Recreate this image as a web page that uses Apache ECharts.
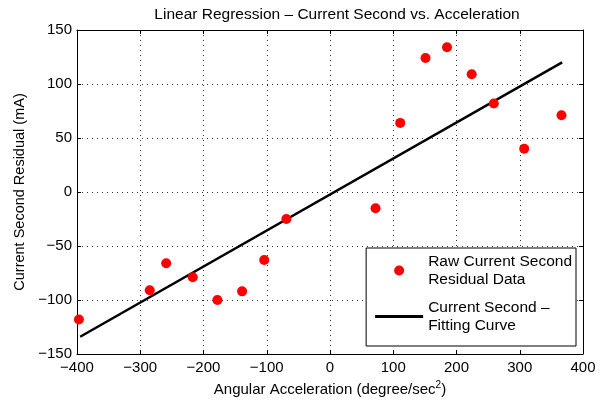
<!DOCTYPE html>
<html><head><meta charset="utf-8">
<script src="https://cdn.jsdelivr.net/npm/echarts@6/dist/echarts.min.js"></script>
<style>html,body{margin:0;padding:0;background:#fff}#c{width:613px;height:407px}</style>
</head><body><div id="c"></div>
<script>
const rawX = [-397, -285, -259, -217, -178, -139, -104, -69, 72, 111, 151, 185, 224, 259, 307, 366];
const rawY = [-118, -91, -66, -79, -100, -92, -63, -25, -15, 64, 124, 134, 109, 82, 40, 71];
const fitX = [-395, 367];
const fitY = [-134, 120];
const xTicks = [-400, -300, -200, -100, 0, 100, 200, 300, 400];
const yTicks = [-150, -100, -50, 0, 50, 100, 150];

const F = 'Liberation Sans, Arial, sans-serif';
const fmt = v => String(v).replace('-', '\u2212');
const chart = echarts.init(document.getElementById('c'));
const axBase = {
  type: 'value',
  axisLine: {show: true, onZero: false, lineStyle: {color: '#000', width: 1}},
  axisTick: {show: true, inside: true, length: 4, lineStyle: {color: '#000'}},
  axisLabel: {color: '#000', fontFamily: F, fontSize: 15, formatter: fmt},
  splitLine: {show: true, lineStyle: {color: '#333', type: [1, 4], width: 1}}
};
chart.setOption({
  animation: false,
  title: {text: 'Linear Regression \u2013 Current Second vs. Acceleration', left: 332, textAlign: 'center', top: 2,
    textStyle: {fontFamily: F, fontSize: 15.5, fontWeight: 'normal', color: '#000'}},
  grid: {left: 77, right: 30, top: 30, bottom: 53},
  xAxis: [
    Object.assign({}, axBase, {min: xTicks[0], max: xTicks[xTicks.length-1], interval: 100, position: 'bottom',
      axisLabel: Object.assign({}, axBase.axisLabel, {margin: 6}),
      name: '{a|Angular Acceleration (degree/sec}{s|2}{a|)}', nameLocation: 'middle', nameGap: 24,
      nameTextStyle: {rich: {a: {fontFamily: F, fontSize: 15, color: '#000'}, s: {fontFamily: F, fontSize: 10, color: '#000', padding: [0,0,9,0]}}}}),
    Object.assign({}, axBase, {min: xTicks[0], max: xTicks[xTicks.length-1], interval: 100, position: 'top',
      axisLabel: {show: false}, splitLine: {show: false}})
  ],
  yAxis: [
    Object.assign({}, axBase, {min: yTicks[0], max: yTicks[yTicks.length-1], interval: 50, position: 'left',
      axisLabel: Object.assign({}, axBase.axisLabel, {margin: 5}),
      name: 'Current Second Residual (mA)', nameLocation: 'middle', nameGap: 49,
      nameTextStyle: {fontFamily: F, fontSize: 14.5, color: '#000'}}),
    Object.assign({}, axBase, {min: yTicks[0], max: yTicks[yTicks.length-1], interval: 50, position: 'right',
      axisLabel: {show: false}, splitLine: {show: false}})
  ],
  legend: {
    orient: 'vertical', right: 37, bottom: 61,
    backgroundColor: '#fff', borderColor: '#000', borderWidth: 1, borderRadius: 0,
    padding: [5, 4, 12, 9], itemGap: 11, itemWidth: 48, itemHeight: 10,
    textStyle: {fontFamily: F, fontSize: 15.5, color: '#000', lineHeight: 17.5},
    data: [
      {name: 'Raw Current Second\nResidual Data', icon: 'circle', itemStyle: {color: '#ff0000', opacity: 1}},
      {name: 'Current Second \u2013\nFitting Curve', icon: 'path://M0,0L48,0L48,3L0,3Z', itemStyle: {color: '#000'}}
    ]
  },
  series: [
    {name: 'Raw Current Second\nResidual Data', type: 'scatter', symbol: 'circle', symbolSize: 10,
      itemStyle: {color: '#ff0000', opacity: 1}, data: rawX.map((x, i) => [x, rawY[i]]), z: 3},
    {name: 'Current Second \u2013\nFitting Curve', type: 'line', symbol: 'none', showSymbol: false,
      lineStyle: {color: '#000', width: 2.5}, itemStyle: {color: '#000'},
      data: fitX.map((x, i) => [x, fitY[i]]), z: 2}
  ]
});
</script></body></html>
